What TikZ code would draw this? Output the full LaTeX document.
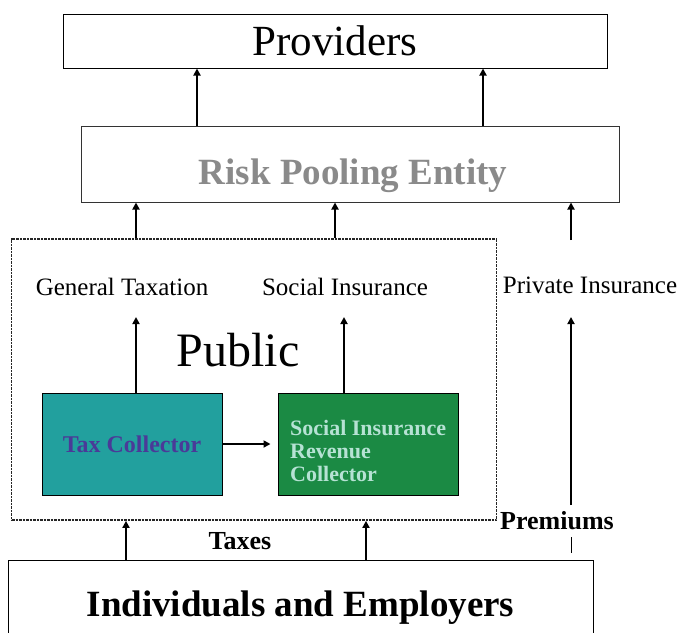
\documentclass[tikz,border=0pt]{standalone}
\usepackage{fontspec}
\setmainfont{Liberation Serif}
\usetikzlibrary{arrows.meta}
\definecolor{taxfill}{HTML}{22A09E}
\definecolor{taxtext}{HTML}{4A3A98}
\definecolor{sirfill}{HTML}{1B8A44}
\definecolor{sirtext}{HTML}{B6E2D4}
\definecolor{riskgray}{HTML}{8A8A8A}
\tikzset{
  box/.style={draw, line width=1pt, rectangle, inner sep=0pt},
  arr/.style={-{Triangle[length=7pt,width=7pt]}, line width=2.3pt},
  lbl/.style={inner sep=2pt, font=\fontsize{25}{28}\selectfont},
  boldlbl/.style={inner sep=2pt, font=\fontsize{26}{28}\selectfont\bfseries},
}
\begin{document}
\begin{tikzpicture}[x=1pt,y=-1pt]
\useasboundingbox (0,0) rectangle (679,632);

% top levels
\node[box, minimum width=544pt, minimum height=54pt, font=\fontsize{43}{45}\selectfont]
  (prov) at (335,41) {Providers};
\node[box, draw=black!80, minimum width=538pt, minimum height=76pt] (risk) at (350,164) {};
\node[font=\fontsize{37}{40}\selectfont\bfseries, text=riskgray, inner sep=0pt]
  (risklbl) at (353,176) {Risk Pooling Entity};

% public sector frame (stippled border)
\node[draw=black!85, dash pattern=on 0.9pt off 0.5pt, line width=1.7pt,
  minimum width=485pt, minimum height=281pt, inner sep=0pt] (pub) at (254,379.5) {};
\node[font=\fontsize{48}{50}\selectfont] (publbl) at (238,350) {Public};

\node[lbl] (gentax) at (122,287) {General Taxation};
\node[lbl] (socins) at (345,287) {Social Insurance};
\node[lbl] (privins) at (590,285) {Private Insurance};

% collectors
\node[box, fill=taxfill, minimum width=180pt, minimum height=102pt,
  font=\fontsize{24}{26}\selectfont\bfseries, text=taxtext]
  (tax) at (132,444) {Tax Collector};
\node[box, fill=sirfill, minimum width=180pt, minimum height=102pt] (sirc) at (368,444) {};
\node[anchor=north west, align=left, inner sep=0pt,
  font=\fontsize{22}{23}\selectfont\bfseries, text=sirtext]
  (sirctext) at (290,420) {Social Insurance\\Revenue\\Collector};

% contributors
\node[box, minimum width=585pt, minimum height=95pt,
  font=\fontsize{37}{40}\selectfont\bfseries]
  (ind) at (300.5,607.5) {Individuals and Employers};
\node[boldlbl] (taxes) at (240,541) {Taxes};
\node[boldlbl] (prem) at (557,521) {Premiums};

% flows
\draw[arr] (197,0 |- risk.north) -- (197,0 |- prov.south);
\draw[arr] (483,0 |- risk.north) -- (483,0 |- prov.south);
\draw[arr] (136,0 |- pub.north) -- (136,0 |- risk.south);
\draw[arr] (335,0 |- pub.north) -- (335,0 |- risk.south);
\coordinate (privtop) at (571,240);
\draw[arr] (privtop) -- (571,0 |- risk.south);
\draw[arr] (136,0 |- tax.north) -- (136,317);
\draw[arr] (344,0 |- sirc.north) -- (344,317);
\draw[arr] (tax.east) -- ([xshift=-7pt]sirc.west);
\coordinate (privbot) at (571,505);
\draw[arr] (privbot) -- (571,317);
\coordinate (tickA) at (571,537);
\coordinate (tickB) at (571,553);
\draw[line width=1pt] (tickA) -- (tickB);
\draw[arr] (126,0 |- ind.north) -- (126,0 |- pub.south);
\draw[arr] (366,0 |- ind.north) -- (366,0 |- pub.south);
\end{tikzpicture}
\end{document}
